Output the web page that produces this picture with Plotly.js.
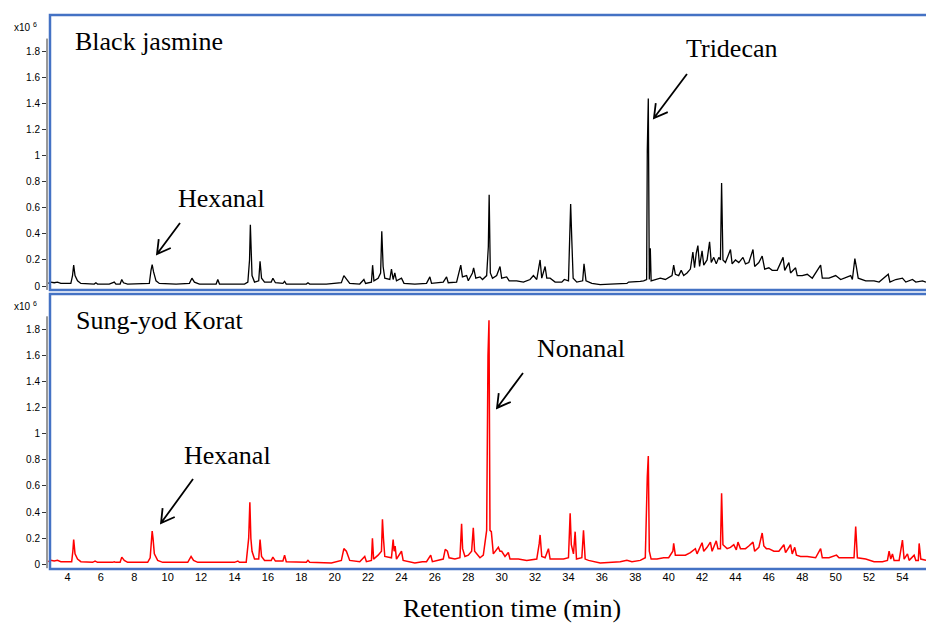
<!DOCTYPE html>
<html>
<head>
<meta charset="utf-8">
<script src="https://cdn.plot.ly/plotly-3.0.1.min.js"></script>
<style>html,body{margin:0;padding:0;background:#fff;}#chart{width:926px;height:623px;}</style>
</head>
<body>
<div id="chart"></div>
<script>
// Black jasmine chromatogram (retention time, min / intensity x10^6)
const blackTime = [2.85,3.0,3.2,3.4,3.6,3.9,4.2,4.3,4.37,4.45,4.6,4.8,5.2,5.6,5.7,5.8,6.5,6.8,6.9,7.15,7.25,7.35,7.6,8.5,8.9,9.0,9.07,9.15,9.3,9.5,10.5,11.3,11.45,11.6,11.9,12.9,13.0,13.1,14.3,14.6,14.8,14.9,14.95,15.0,15.05,15.2,15.45,15.53,15.62,15.8,16.2,16.3,16.45,16.9,17.0,17.1,18.3,18.4,18.5,19.5,20.4,20.55,20.7,20.9,21.5,21.75,21.85,22.2,22.27,22.35,22.6,22.75,22.82,22.9,23.0,23.3,23.4,23.5,23.6,23.7,24.0,24.15,24.8,25.5,25.7,25.8,26.5,26.7,26.8,27.3,27.55,27.65,27.9,28.0,28.25,28.32,28.45,28.7,28.85,29.1,29.2,29.25,29.32,29.45,29.7,29.9,30.0,30.3,30.45,30.9,31.3,31.7,31.9,32.1,32.3,32.4,32.6,32.7,32.9,33.2,33.6,33.75,34.0,34.08,34.13,34.2,34.28,34.5,34.85,34.93,35.05,35.4,35.9,36.5,37.1,37.5,37.6,38.0,38.3,38.5,38.68,38.72,38.78,38.84,38.9,38.95,39.2,39.5,39.8,40.2,40.3,40.4,40.6,40.75,40.9,41.1,41.3,41.45,41.55,41.65,41.75,41.85,42.0,42.1,42.3,42.45,42.55,42.7,42.85,43.0,43.1,43.17,43.25,43.4,43.7,43.8,44.0,44.2,44.45,44.6,44.8,45.05,45.15,45.4,45.6,45.75,46.0,46.2,46.5,46.85,46.95,47.2,47.3,47.6,47.7,48.0,48.3,48.6,49.1,49.2,49.6,50.0,50.3,50.9,51.0,51.15,51.25,51.35,51.8,52.3,52.6,53.15,53.25,53.6,54.0,54.2,54.6,54.8,55.2,55.41];
const blackSignal = [0.02,0.03,0.025,0.03,0.02,0.02,0.02,0.08,0.16,0.08,0.04,0.02,0.015,0.015,0.025,0.015,0.015,0.03,0.015,0.015,0.05,0.025,0.015,0.015,0.02,0.12,0.165,0.11,0.04,0.02,0.015,0.02,0.06,0.03,0.015,0.015,0.05,0.015,0.015,0.015,0.03,0.2,0.47,0.2,0.08,0.03,0.04,0.19,0.06,0.03,0.03,0.06,0.025,0.02,0.035,0.015,0.015,0.025,0.015,0.015,0.025,0.08,0.05,0.02,0.015,0.05,0.02,0.03,0.16,0.04,0.06,0.1,0.42,0.15,0.06,0.05,0.13,0.05,0.1,0.04,0.06,0.02,0.015,0.02,0.07,0.02,0.03,0.07,0.025,0.03,0.16,0.07,0.08,0.04,0.1,0.14,0.06,0.07,0.05,0.08,0.3,0.7,0.1,0.06,0.08,0.15,0.06,0.07,0.04,0.04,0.03,0.05,0.08,0.05,0.2,0.06,0.15,0.06,0.06,0.03,0.03,0.05,0.04,0.35,0.63,0.35,0.06,0.03,0.04,0.17,0.04,0.02,0.01,0.015,0.02,0.02,0.03,0.03,0.035,0.04,0.05,1.04,1.44,0.05,0.29,0.04,0.05,0.06,0.05,0.08,0.16,0.09,0.08,0.12,0.08,0.1,0.13,0.26,0.14,0.25,0.31,0.15,0.27,0.16,0.2,0.34,0.18,0.22,0.17,0.22,0.2,0.79,0.2,0.18,0.28,0.17,0.2,0.18,0.22,0.17,0.18,0.28,0.15,0.18,0.23,0.13,0.14,0.12,0.12,0.22,0.12,0.18,0.1,0.14,0.08,0.08,0.09,0.06,0.16,0.06,0.06,0.08,0.05,0.08,0.05,0.21,0.14,0.06,0.04,0.04,0.03,0.09,0.03,0.05,0.06,0.03,0.05,0.03,0.04,0.03];

// Sung-yod Korat chromatogram
const sungTime = [2.85,3.0,3.2,3.4,3.6,4.0,4.25,4.32,4.37,4.45,4.6,4.8,5.5,5.65,5.8,6.7,6.8,6.9,7.15,7.25,7.4,7.6,8.8,8.95,9.02,9.07,9.12,9.2,9.4,9.7,11.2,11.4,11.55,11.8,14.0,14.2,14.3,14.7,14.85,14.92,14.98,15.05,15.2,15.45,15.53,15.62,15.8,16.2,16.3,16.45,16.9,17.0,17.1,18.3,18.4,18.5,19.8,20.4,20.55,20.7,20.9,21.5,21.8,21.9,22.2,22.26,22.33,22.6,22.8,22.86,22.92,23.0,23.4,23.5,23.56,23.62,23.7,24.0,24.1,24.5,24.8,25.25,25.5,25.75,25.85,26.5,26.62,26.75,26.85,27.2,27.5,27.6,27.66,27.8,28.0,28.2,28.3,28.38,28.7,28.9,29.1,29.18,29.24,29.3,29.38,29.5,29.8,29.9,30.0,30.2,30.4,30.5,31.0,31.5,32.1,32.25,32.3,32.4,32.6,32.8,32.9,33.4,33.7,34.0,34.1,34.17,34.3,34.4,34.48,34.8,34.9,35.0,35.2,35.9,36.5,37.1,37.5,37.8,38.3,38.6,38.72,38.78,38.84,38.95,39.3,39.7,40.0,40.25,40.3,40.4,40.8,41.0,41.3,41.6,41.7,41.9,42.0,42.1,42.3,42.5,42.6,42.85,42.95,43.1,43.17,43.25,43.5,43.7,43.9,44.05,44.15,44.3,44.6,44.8,45.05,45.15,45.4,45.6,45.7,45.85,46.0,46.3,46.6,46.9,47.0,47.3,47.4,47.55,47.65,47.9,48.3,48.8,49.1,49.2,49.6,50.05,50.2,50.7,51.1,51.2,51.3,51.8,52.3,52.8,53.1,53.2,53.3,53.4,53.5,53.8,54.0,54.1,54.3,54.4,54.7,54.8,54.95,55.0,55.1,55.41];
const sungSignal = [0.02,0.03,0.025,0.03,0.02,0.02,0.02,0.1,0.19,0.08,0.04,0.02,0.015,0.025,0.015,0.015,0.02,0.015,0.015,0.055,0.03,0.015,0.015,0.05,0.2,0.255,0.2,0.08,0.03,0.015,0.015,0.06,0.03,0.015,0.015,0.025,0.015,0.015,0.2,0.475,0.2,0.1,0.04,0.04,0.19,0.06,0.03,0.03,0.055,0.025,0.025,0.07,0.02,0.015,0.03,0.015,0.01,0.03,0.12,0.1,0.03,0.02,0.06,0.02,0.03,0.2,0.04,0.07,0.1,0.345,0.2,0.06,0.05,0.19,0.1,0.14,0.04,0.1,0.03,0.02,0.01,0.02,0.02,0.07,0.02,0.04,0.115,0.1,0.05,0.04,0.05,0.31,0.12,0.06,0.07,0.1,0.28,0.1,0.05,0.07,0.26,1.6,1.87,0.26,0.25,0.08,0.13,0.1,0.1,0.06,0.09,0.04,0.04,0.03,0.04,0.16,0.225,0.06,0.05,0.12,0.04,0.04,0.04,0.05,0.39,0.15,0.08,0.25,0.04,0.05,0.26,0.04,0.03,0.01,0.015,0.02,0.03,0.02,0.03,0.05,0.67,0.83,0.1,0.04,0.04,0.05,0.05,0.1,0.16,0.07,0.07,0.07,0.09,0.12,0.08,0.13,0.165,0.1,0.13,0.17,0.1,0.18,0.12,0.12,0.545,0.15,0.12,0.13,0.15,0.11,0.17,0.12,0.12,0.14,0.17,0.1,0.13,0.24,0.14,0.12,0.12,0.1,0.1,0.15,0.09,0.15,0.08,0.13,0.07,0.06,0.06,0.05,0.12,0.05,0.05,0.07,0.05,0.05,0.05,0.29,0.05,0.04,0.02,0.02,0.03,0.1,0.04,0.08,0.03,0.03,0.185,0.04,0.08,0.03,0.07,0.03,0.03,0.16,0.04,0.03];

const xTickVals = [4,6,8,10,12,14,16,18,20,22,24,26,28,30,32,34,36,38,40,42,44,46,48,50,52,54];
const xTickText = ["4","6","8","10","12","14","16","18","20","22","24","26","28","30","32","34","36","38","40","42","44","46","48","50","52","54"];
const yTickVals = [0,0.2,0.4,0.6,0.8,1,1.2,1.4,1.6,1.8];
const yTickText = ["0","0.2","0.4","0.6","0.8","1","1.2","1.4","1.6","1.8"];

const serif = "Liberation Serif, Times New Roman, serif";
const sans = "Liberation Sans, Arial, sans-serif";
const blue = "#4472C4";

const xRange = [2.772, 55.41];
const yRange1 = [-0.0307, 2.081];
const yRange2 = [-0.036, 2.071];
const plotW = 879, panelH = 275;

// open "V" arrow: head in data coords, tail offset in pixels (dx right, dy down)
function arrowShape(yref, yRange, hx, hy, dx, dy) {
  const sx = plotW / (xRange[1] - xRange[0]);
  const sy = panelH / (yRange[1] - yRange[0]);
  const len = Math.hypot(dx, dy), ux = dx / len, uy = dy / len;
  const arm = 15, c = Math.cos(Math.PI / 6), s = Math.sin(Math.PI / 6);
  const a1 = [arm * (ux * c - uy * s), arm * (ux * s + uy * c)];
  const a2 = [arm * (ux * c + uy * s), arm * (-ux * s + uy * c)];
  const P = (px, py) => (hx + px / sx).toFixed(4) + "," + (hy - py / sy).toFixed(4);
  const path = "M" + P(dx, dy) + "L" + P(0, 0) + "M" + P(a1[0], a1[1]) + "L" + P(0, 0) + "L" + P(a2[0], a2[1]);
  return {type: "path", xref: "x", yref: yref, path: path, layer: "above",
          line: {color: "#000", width: 1.8}};
}

const traces = [
  {x: blackTime, y: blackSignal, xaxis: "x", yaxis: "y", type: "scatter", mode: "lines",
   line: {color: "#000000", width: 1.3}, hoverinfo: "skip"},
  {x: sungTime, y: sungSignal, xaxis: "x", yaxis: "y2", type: "scatter", mode: "lines",
   line: {color: "#ff0000", width: 1.5}, hoverinfo: "skip"}
];

const yAxisCommon = {
  tickvals: yTickVals, ticktext: yTickText, ticks: "outside", ticklen: 4, tickwidth: 1,
  tickcolor: "#333", showgrid: false, zeroline: false, showline: false,
  tickfont: {family: sans, size: 10, color: "#000"}, anchor: "x", fixedrange: true
};

const layout = {
  width: 926, height: 623,
  margin: {l: 47, r: 0, t: 15, b: 54, pad: 0},
  paper_bgcolor: "#ffffff", plot_bgcolor: "#ffffff",
  showlegend: false,
  xaxis: {range: xRange, anchor: "y2", tickvals: xTickVals, ticktext: xTickText,
          ticks: "", showgrid: false, zeroline: false, showline: false,
          tickfont: {family: sans, size: 11, color: "#000"}},
  yaxis: Object.assign({domain: [0.5036, 1], range: yRange1}, yAxisCommon),
  yaxis2: Object.assign({domain: [0, 0.4964], range: yRange2}, yAxisCommon),
  shapes: [
    {type: "line", xref: "paper", yref: "y", x0: 0, x1: 0, y0: -0.03, y1: 1.9, line: {color: "#333", width: 1}},
    {type: "line", xref: "paper", yref: "y2", x0: 0, x1: 0, y0: -0.03, y1: 1.9, line: {color: "#333", width: 1}},
    {type: "rect", xref: "paper", yref: "paper", x0: 0.0034, x1: 1.02, y0: 0.5036, y1: 1.0, layer: "above",
     line: {color: blue, width: 2.5}},
    {type: "rect", xref: "paper", yref: "paper", x0: 0.0034, x1: 1.02, y0: 0.0, y1: 0.4964, layer: "above",
     line: {color: blue, width: 2.5}},
    arrowShape("y", yRange1, 9.36, 0.246, 23, -31),
    arrowShape("y", yRange1, 39.12, 1.29, 33, -44),
    arrowShape("y2", yRange2, 29.72, 1.198, 26, -35),
    arrowShape("y2", yRange2, 9.6, 0.316, 32, -44)
  ],
  annotations: [
    {text: "Black jasmine", xref: "paper", yref: "paper", x: 0.0295, y: 0.953, xanchor: "left", yanchor: "middle",
     showarrow: false, font: {family: serif, size: 26, color: "#000"}},
    {text: "Sung-yod Korat", xref: "paper", yref: "paper", x: 0.0303, y: 0.4486, xanchor: "left", yanchor: "middle",
     showarrow: false, font: {family: serif, size: 26, color: "#000"}},
    {text: "Hexanal", xref: "paper", yref: "paper", x: 0.198, y: 0.668, xanchor: "center", yanchor: "middle",
     showarrow: false, font: {family: serif, size: 26, color: "#000"}},
    {text: "Tridecan", xref: "paper", yref: "paper", x: 0.779, y: 0.9404, xanchor: "center", yanchor: "middle",
     showarrow: false, font: {family: serif, size: 26, color: "#000"}},
    {text: "Nonanal", xref: "paper", yref: "paper", x: 0.6072, y: 0.3989, xanchor: "center", yanchor: "middle",
     showarrow: false, font: {family: serif, size: 26, color: "#000"}},
    {text: "Hexanal", xref: "paper", yref: "paper", x: 0.2048, y: 0.204, xanchor: "center", yanchor: "middle",
     showarrow: false, font: {family: serif, size: 26, color: "#000"}},
    {text: "Retention time (min)", xref: "paper", yref: "paper", x: 0.529, y: -0.072, xanchor: "center", yanchor: "middle",
     showarrow: false, font: {family: serif, size: 26, color: "#000"}},
    {text: "x10 <sup>6</sup>", xref: "paper", yref: "paper", x: -0.0398, y: 0.9783, xanchor: "left", yanchor: "middle",
     showarrow: false, font: {family: sans, size: 10, color: "#000"}},
    {text: "x10 <sup>6</sup>", xref: "paper", yref: "paper", x: -0.0398, y: 0.4747, xanchor: "left", yanchor: "middle",
     showarrow: false, font: {family: sans, size: 10, color: "#000"}}
  ]
};

Plotly.newPlot("chart", traces, layout, {staticPlot: true, displayModeBar: false});
</script>
</body>
</html>
